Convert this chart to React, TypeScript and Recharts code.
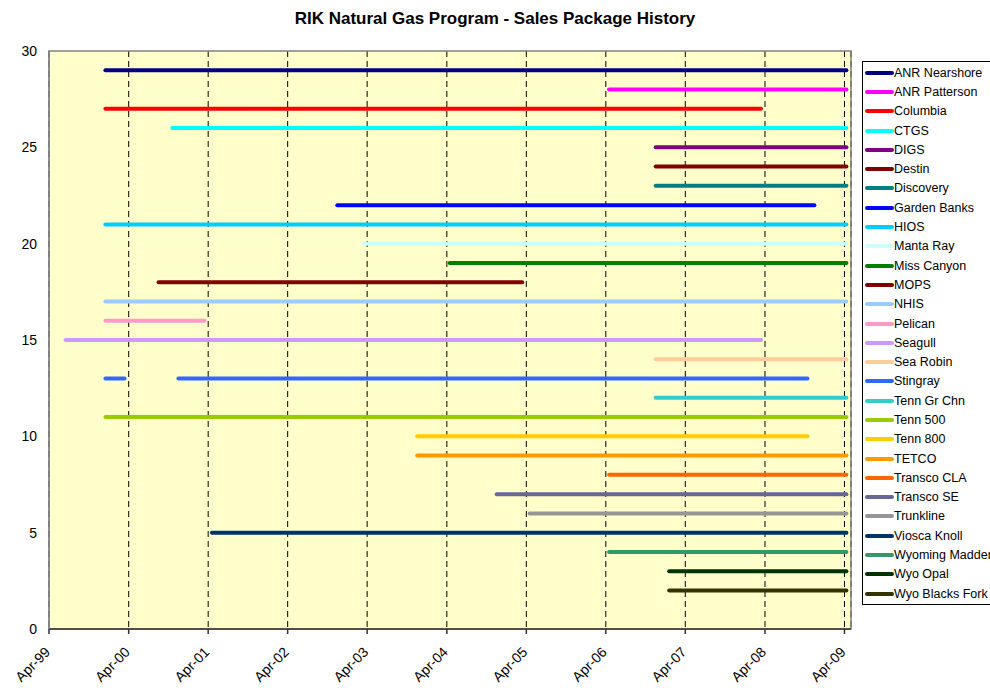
import { CartesianGrid, Legend, Line, LineChart, ReferenceArea, XAxis, YAxis } from 'recharts'

const packages = [
  'ANR Nearshore', 'ANR Patterson', 'Columbia', 'CTGS', 'DIGS', 'Destin', 'Discovery',
  'Garden Banks', 'HIOS', 'Manta Ray', 'Miss Canyon', 'MOPS', 'NHIS', 'Pelican', 'Seagull',
  'Sea Robin', 'Stingray', 'Tenn Gr Chn', 'Tenn 500', 'Tenn 800', 'TETCO', 'Transco CLA',
  'Transco SE', 'Trunkline', 'Viosca Knoll', 'Wyoming Madden', 'Wyo Opal', 'Wyo Blacks Fork',
]

const rows = [29, 28, 27, 26, 25, 24, 23, 22, 21, 20, 19, 18, 17, 16, 15, 14, 13, 12, 11, 10, 9, 8, 7, 6, 5, 4, 3, 2]

const colors = [
  '#000080', '#FF00FF', '#FF0000', '#00FFFF', '#800080', '#800000', '#008080',
  '#0000FF', '#00CCFF', '#CCFFFF', '#008000', '#800000', '#99CCFF', '#FF99CC', '#CC99FF',
  '#FFCC99', '#3366FF', '#33CCCC', '#99CC00', '#FFCC00', '#FF9900', '#FF6600',
  '#666699', '#969696', '#003366', '#339966', '#003300', '#333300',
]

// sale periods per package: [start, end]
const periods: string[][][] = [
  [['1999-12-16', '2009-04-10']],
  [['2006-04-16', '2009-04-10']],
  [['1999-12-16', '2008-03-14']],
  [['2000-10-18', '2009-04-10']],
  [['2006-11-16', '2009-04-10']],
  [['2006-11-16', '2009-04-10']],
  [['2006-11-16', '2009-04-10']],
  [['2002-11-15', '2008-11-14']],
  [['1999-12-16', '2009-04-10']],
  [['2003-03-19', '2009-04-10']],
  [['2004-04-14', '2009-04-10']],
  [['2000-08-16', '2005-03-13']],
  [['1999-12-16', '2009-04-10']],
  [['1999-12-16', '2001-03-15']],
  [['1999-06-16', '2008-03-14']],
  [['2006-11-16', '2009-04-10']],
  [['1999-12-16', '2000-03-13'], ['2000-11-15', '2008-10-13']],
  [['2006-11-16', '2009-04-10']],
  [['1999-12-16', '2009-04-10']],
  [['2003-11-17', '2008-10-13']],
  [['2003-11-17', '2009-04-10']],
  [['2006-04-16', '2009-04-10']],
  [['2004-11-16', '2009-04-10']],
  [['2005-04-16', '2009-04-10']],
  [['2001-04-18', '2009-04-10']],
  [['2006-04-16', '2009-04-10']],
  [['2007-01-17', '2009-04-10']],
  [['2007-01-17', '2009-04-10']],
]

const tickDates = [
  '1999-04-01', '2000-04-01', '2001-04-01', '2002-04-01', '2003-04-01', '2004-04-01',
  '2005-04-01', '2006-04-01', '2007-04-01', '2008-04-01', '2009-04-01',
]
const tickLabels = ['Apr-99', 'Apr-00', 'Apr-01', 'Apr-02', 'Apr-03', 'Apr-04', 'Apr-05', 'Apr-06', 'Apr-07', 'Apr-08', 'Apr-09']
const yTicks = [0, 5, 10, 15, 20, 25, 30]

const toTime = (s: string) => {
  const [y, m, d] = s.split('-').map(Number)
  return Date.UTC(y, m - 1, d)
}

const xMin = toTime('1999-04-01')
const xMax = toTime('2009-05-01')
const xTicks = tickDates.map(toTime)

const seriesData = periods.map((segs, i) => {
  const pts: { x: number; y: number | null }[] = []
  segs.forEach(([s, e], j) => {
    if (j > 0) pts.push({ x: (toTime(segs[j - 1][1]) + toTime(s)) / 2, y: null })
    pts.push({ x: toTime(s), y: rows[i] })
    pts.push({ x: toTime(e), y: rows[i] })
  })
  return pts
})

const font = '"Liberation Sans", Arial, sans-serif'

function DateTick(props: any) {
  const { x, y, payload } = props
  const idx = xTicks.indexOf(payload.value)
  const ax = x + 2
  const ay = y + 17
  return (
    <text x={ax} y={ay} transform={`rotate(-45 ${ax} ${ay})`} textAnchor='end' fontSize={14} fill='#000' fontFamily={font}>
      {tickLabels[idx]}
    </text>
  )
}

function LegendBox() {
  return (
    <div style={{ width: 140, border: '1px solid #000', background: '#fff', paddingTop: 1, paddingBottom: 1, fontFamily: font }}>
      {packages.map((name, i) => (
        <div key={name} style={{ height: 19.3, display: 'flex', alignItems: 'center', whiteSpace: 'nowrap' }}>
          <svg width={31} height={8} style={{ flex: 'none' }}>
            <line x1={4} y1={4} x2={29} y2={4} stroke={colors[i]} strokeWidth={4} strokeLinecap='round' />
          </svg>
          <span style={{ fontSize: 12.5, color: '#000' }}>{name}</span>
        </div>
      ))}
    </div>
  )
}

export default function App() {
  return (
    <div style={{ position: 'fixed', left: 0, top: 0, width: 990, height: 688, overflow: 'hidden', background: '#fff' }}>
      <div style={{ position: 'absolute', left: 0, top: 9, width: 990, textAlign: 'center', fontFamily: font, fontWeight: 'bold', fontSize: 17, lineHeight: '20px' }}>
        RIK Natural Gas Program - Sales Package History
      </div>
      <LineChart width={990} height={688} margin={{ top: 51, right: 139, bottom: 9, left: 0 }}>
        <CartesianGrid fill='#FFFFCC' horizontal={false} stroke='#000' strokeDasharray='6 4' />
        <ReferenceArea x1={xMin} x2={xMax} y1={0} y2={30} fill='none' stroke='#808080' strokeWidth={1.5} ifOverflow='visible' />
        <XAxis
          type='number'
          dataKey='x'
          domain={[xMin, xMax]}
          ticks={xTicks}
          interval={0}
          allowDataOverflow
          height={50}
          stroke='#333'
          strokeWidth={1.5}
          tickSize={5}
          tick={<DateTick />}
        />
        <YAxis
          type='number'
          domain={[0, 30]}
          ticks={yTicks}
          width={49}
          stroke='#808080'
          tickLine={false}
          tickMargin={6}
          tick={{ fill: '#000', fontSize: 14, fontFamily: font }}
        />
        {packages.map((name, i) => (
          <Line
            key={name}
            name={name}
            data={seriesData[i]}
            dataKey='y'
            type='linear'
            stroke={colors[i]}
            strokeWidth={4}
            strokeLinecap='round'
            dot={false}
            activeDot={false}
            connectNulls={false}
            isAnimationActive={false}
          />
        ))}
        <Legend layout='vertical' align='center' verticalAlign='middle' wrapperStyle={{ left: 862, top: 61 }} content={<LegendBox />} />
      </LineChart>
    </div>
  )
}
